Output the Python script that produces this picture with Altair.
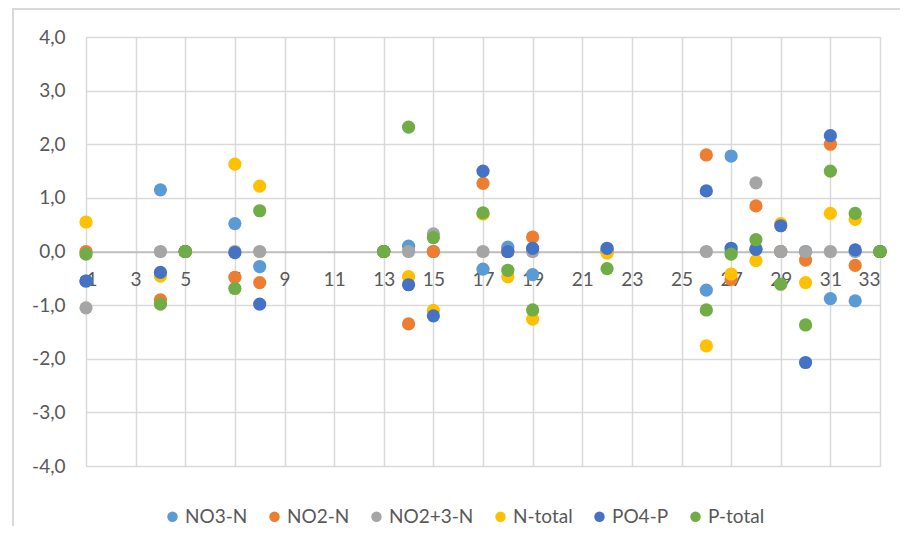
import altair as alt
import pandas as pd

x_vals = [1, 4, 5, 7, 8, 13, 14, 15, 17, 18, 19, 22, 26, 27, 28, 29, 30, 31, 32, 33]

series_names = ["NO3-N", "NO2-N", "NO2+3-N", "N-total", "PO4-P", "P-total"]
series_colors = ["#5B9BD5", "#ED7D31", "#A5A5A5", "#FFC000", "#4472C4", "#70AD47"]

no3_n = [-0.55, 1.15, 0.0, 0.52, -0.28, 0.0, 0.10, 0.0, -0.33, 0.08, -0.43, 0.03, -0.72, 1.78, 0.05, 0.0, 0.0, -0.88, -0.92, 0.0]
no2_n = [0.0, -0.90, 0.0, -0.48, -0.58, 0.0, -1.35, 0.0, 1.27, 0.0, 0.27, 0.0, 1.80, -0.52, 0.85, 0.0, -0.16, 2.00, -0.26, 0.0]
no23_n = [-1.05, 0.0, 0.0, 0.0, 0.0, 0.0, 0.0, 0.33, 0.0, 0.0, 0.0, 0.0, 0.0, 0.0, 1.28, 0.0, 0.0, 0.0, 0.0, 0.0]
n_total = [0.55, -0.46, 0.0, 1.63, 1.22, 0.0, -0.47, -1.10, 0.70, -0.47, -1.26, -0.03, -1.76, -0.42, -0.17, 0.52, -0.58, 0.71, 0.60, 0.0]
po4_p = [-0.55, -0.39, 0.0, -0.02, -0.98, 0.0, -0.62, -1.20, 1.50, 0.0, 0.06, 0.06, 1.13, 0.06, 0.04, 0.48, -2.07, 2.16, 0.03, 0.0]
p_total = [-0.05, -0.98, 0.0, -0.69, 0.76, 0.0, 2.32, 0.26, 0.72, -0.35, -1.09, -0.32, -1.09, -0.05, 0.22, -0.61, -1.37, 1.50, 0.71, 0.0]

x_ticks = list(range(1, 34, 2))
y_ticks = [-4, -3, -2, -1, 0, 1, 2, 3, 4]

all_series = [no3_n, no2_n, no23_n, n_total, po4_p, p_total]
rows = []
for name, vals in zip(series_names, all_series):
    for xv, yv in zip(x_vals, vals):
        rows.append({"x": xv, "y": yv, "series": name})
df = pd.DataFrame(rows)

FONT = "Lato"
W, H = 794, 429

points = alt.Chart(df).mark_circle(size=175, opacity=1).encode(
    x=alt.X("x:Q", scale=alt.Scale(domain=[1, 33], nice=False, zero=False),
            axis=alt.Axis(values=x_ticks, title=None, offset=-H / 2, grid=True,
                          gridColor="#d9d9d9", gridWidth=1.5, ticks=False,
                          domain=True, domainColor="#bfbfbf", domainWidth=1.5,
                          labelPadding=19, labelFontSize=19, labelColor="#595959",
                          labelFont=FONT)),
    y=alt.Y("y:Q", scale=alt.Scale(domain=[-4, 4], nice=False),
            axis=alt.Axis(values=y_ticks, title=None, grid=True,
                          gridColor={"condition": {"test": "datum.value === 0", "value": "#bfbfbf"}, "value": "#d9d9d9"},
                          gridWidth=1.5, ticks=False, domain=False,
                          labelPadding=21, labelFontSize=19, labelColor="#595959",
                          labelFont=FONT,
                          labelExpr="replace(replace(format(datum.value, '.1f'), '.', ','), '\u2212', '-')")),
    color=alt.Color("series:N", scale=alt.Scale(domain=series_names, range=series_colors),
                    legend=alt.Legend(title=None, orient="none", direction="horizontal",
                                      legendX=77, legendY=470, symbolType="circle",
                                      symbolSize=110, symbolStrokeWidth=0, labelFontSize=19,
                                      labelColor="#595959", labelFont=FONT, columnPadding=17,
                                      symbolOpacity=1, labelOffset=3)),
)

frame = alt.Chart(pd.DataFrame({"a": [0]})).mark_rect(
    fill=None, stroke="#d9d9d9", strokeWidth=2, clip=False
).encode(x=alt.value(-73), x2=alt.value(829), y=alt.value(-28), y2=alt.value(515))

chart = alt.layer(frame, points).properties(
    width=W, height=H,
    padding={"left": 78, "top": 29, "right": 20, "bottom": 60},
    autosize=alt.AutoSizeParams(type="none"),
).configure_view(stroke="#d9d9d9", strokeWidth=1.5).configure(background="white")

chart.save("out.html", embed_options={"renderer": "svg", "actions": False})
